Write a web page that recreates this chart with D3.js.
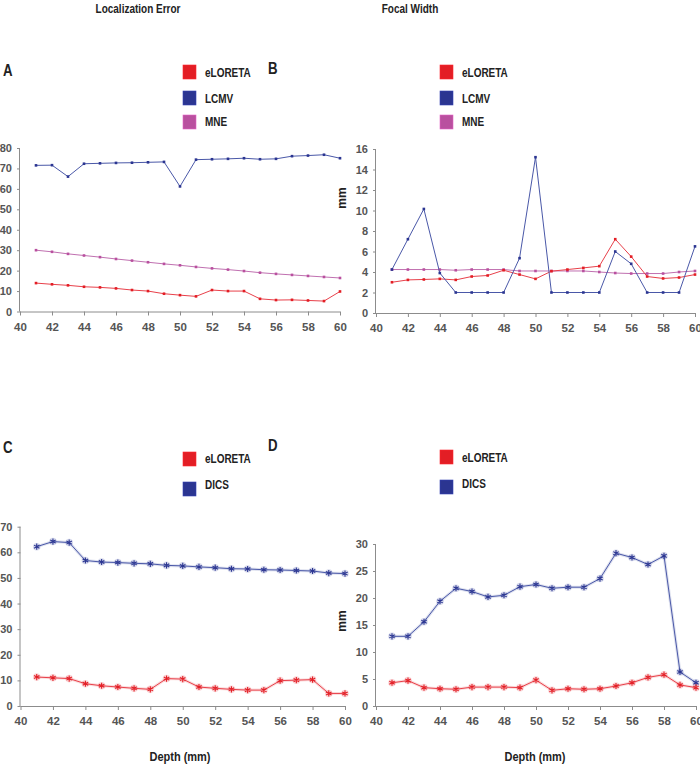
<!DOCTYPE html>
<html><head><meta charset="utf-8">
<script src="https://cdn.jsdelivr.net/npm/d3@7"></script>
<style>
body{margin:0;background:#fff;}
svg{display:block;}
text{font-family:"Liberation Sans",Arial,sans-serif;font-weight:bold;}
</style></head>
<body><svg id="c" width="700" height="765"></svg>
<script>
const depth = [41,42,43,44,45,46,47,48,49,50,51,52,53,54,55,56,57,58,59,60];
const xTicks = [40,42,44,46,48,50,52,54,56,58,60];

// Panel A: Localization error
const locErrELORETA = [13.9,13.3,12.8,12.1,11.8,11.3,10.5,10.0,8.7,8.0,7.4,10.5,10.0,10.0,6.2,5.6,5.7,5.4,5.1,9.8];
const locErrLCMV    = [71.5,71.6,66.0,72.3,72.5,72.7,72.8,73.0,73.2,61.2,74.3,74.5,74.7,75.0,74.5,74.7,76.0,76.3,76.7,75.0];
const locErrMNE     = [30.0,29.2,28.2,27.4,26.6,25.7,24.9,24.1,23.3,22.6,21.8,21.1,20.5,19.8,19.0,18.4,17.9,17.4,16.9,16.4];

// Panel B: Focal width
const focalELORETA = [3.0,3.23,3.27,3.33,3.23,3.56,3.66,4.17,3.75,3.33,4.08,4.24,4.4,4.57,7.2,5.5,3.56,3.37,3.46,3.75];
const focalLCMV    = [4.24,7.2,10.15,3.9,2.0,2.0,2.0,2.0,5.35,15.2,2.0,2.0,2.0,2.0,6.0,4.8,2.0,2.0,2.0,6.5];
const focalMNE     = [4.24,4.24,4.24,4.24,4.17,4.24,4.24,4.24,4.1,4.1,4.1,4.1,4.1,4.0,3.9,3.85,3.85,3.85,4.0,4.1];

// Panel C: Localization error (DICS)
const locErrELORETA2 = [11.3,11.0,10.7,8.7,7.9,7.4,6.9,6.5,10.7,10.5,7.4,6.9,6.5,6.2,6.2,9.9,10.1,10.3,4.9,4.9];
const locErrDICS     = [62.2,64.2,63.8,56.8,56.2,56.0,55.7,55.5,54.9,54.7,54.3,54.0,53.6,53.5,53.2,53.1,52.9,52.7,51.9,51.7];

// Panel D: Focal width (DICS)
const focalELORETA2 = [4.3,4.7,3.4,3.2,3.1,3.5,3.5,3.5,3.4,4.8,2.9,3.2,3.1,3.2,3.7,4.3,5.3,5.8,3.9,3.4];
const focalDICS     = [12.9,12.9,15.6,19.4,21.8,21.2,20.2,20.5,22.1,22.5,21.8,22.0,22.0,23.6,28.3,27.5,26.2,27.8,6.3,4.3];

const RED="#e31e25", BLUE="#2b3591", MAG="#b9509f";
const svg = d3.select("#c");

function narrow(parent, x, y, txt, size, sx, anchor, fill){
  return parent.append("text")
    .attr("transform",`translate(${x},${y}) scale(${sx},1)`)
    .attr("text-anchor",anchor||"start")
    .attr("fill",fill||"#222").style("font-size",size+"px").text(txt);
}

const panels = [
  {letter:"A", lx:3, ly:76, xr:[20,340], yr:[311.5,148], yd:[0,80], yt:[0,10,20,30,40,50,60,70,80], mm:null,
   legend:{x:183, items:[["eLORETA",RED,65,77],["LCMV",BLUE,91,103],["MNE",MAG,115,126]]},
   series:[[locErrLCMV,BLUE,"#4a58a8"],[locErrMNE,MAG,"#c070b0"],[locErrELORETA,RED,"#e8404a"]], star:false},
  {letter:"B", lx:268, ly:74, xr:[376,695], yr:[313,149], yd:[0,16], yt:[0,2,4,6,8,10,12,14,16], mm:[342,198],
   legend:{x:440, items:[["eLORETA",RED,65,77],["LCMV",BLUE,91,103],["MNE",MAG,115,126]]},
   series:[[focalMNE,MAG,"#c070b0"],[focalELORETA,RED,"#e8404a"],[focalLCMV,BLUE,"#4a58a8"]], star:false},
  {letter:"C", lx:3, ly:453, xr:[20.5,345], yr:[706,526.7], yd:[0,70], yt:[0,10,20,30,40,50,60,70], mm:null,
   legend:{x:183, items:[["eLORETA",RED,452,463],["DICS",BLUE,482,489]]},
   series:[[locErrDICS,BLUE,"#4a58a8"],[locErrELORETA2,RED,"#e8404a"]], star:true},
  {letter:"D", lx:268, ly:451, xr:[376,696], yr:[706,544], yd:[0,30], yt:[0,5,10,15,20,25,30], mm:[342,621],
   legend:{x:440, items:[["eLORETA",RED,450,462],["DICS",BLUE,480,488]]},
   series:[[focalDICS,BLUE,"#4a58a8"],[focalELORETA2,RED,"#e8404a"]], star:true}
];

const AX="#8c8c8c", LAB="#555";

panels.forEach(p=>{
  const g = svg.append("g");
  const x = d3.scaleLinear().domain([40,60]).range(p.xr);
  const y = d3.scaleLinear().domain(p.yd).range(p.yr);

  const ya = g.append("g").attr("transform",`translate(${p.xr[0]},0)`)
    .call(d3.axisLeft(y).tickValues(p.yt).tickSize(3).tickPadding(5));
  ya.select(".domain").attr("stroke",AX).attr("d",`M-0.5,${p.yr[0]}V${p.yr[1]}`);
  ya.selectAll(".tick line").attr("stroke",AX);
  ya.selectAll(".tick text").attr("fill",LAB).style("font-size","11px").style("font-family","'Liberation Sans',Arial,sans-serif");

  const xa = g.append("g").attr("transform",`translate(0,${p.yr[0]})`)
    .call(d3.axisBottom(x).tickValues(xTicks).tickSize(4).tickPadding(7));
  xa.select(".domain").attr("stroke",AX).attr("d",`M${p.xr[0]},0.5H${p.xr[1]}`);
  xa.selectAll(".tick line").attr("stroke",AX);
  xa.selectAll(".tick text").attr("fill",LAB).style("font-size","11.5px").style("font-family","'Liberation Sans',Arial,sans-serif");

  p.series.forEach(([vals,col,lcol])=>{
    const pts = depth.map((d,i)=>[x(d),y(vals[i])]);
    const line = d3.line();
    if(p.star){
      g.append("path").attr("d",line(pts)).attr("fill","none").attr("stroke",lcol).attr("stroke-opacity",0.18).attr("stroke-width",3);
    }
    g.append("path").attr("d",line(pts)).attr("fill","none").attr("stroke",lcol).attr("stroke-width",1);
    if(p.star){
      g.selectAll(null).data(pts).enter().append("circle")
        .attr("cx",d=>d[0]).attr("cy",d=>d[1]).attr("r",3.8).attr("fill",lcol).attr("fill-opacity",0.22);
      g.selectAll(null).data(pts).enter().append("path")
        .attr("transform",d=>`translate(${d[0]},${d[1]})`)
        .attr("d",d3.symbol(d3.symbolAsterisk,26)()).attr("fill","none").attr("stroke",col).attr("stroke-width",1.1);
    } else {
      g.selectAll(null).data(pts).enter().append("rect")
        .attr("x",d=>d[0]-1.3).attr("y",d=>d[1]-1.3).attr("width",2.6).attr("height",2.6).attr("fill",col);
    }
  });

  p.legend.items.forEach(([name,col,sy,ty])=>{
    g.append("rect").attr("x",p.legend.x).attr("y",sy).attr("width",13).attr("height",14)
      .attr("fill",col).attr("stroke",d3.color(col).brighter(0.6)).attr("stroke-width",0.6);
    narrow(g, p.legend.x+22, ty, name, 13.5, 0.74);
  });

  narrow(g, p.lx, p.ly, p.letter, 17, 0.78);

  if(p.mm){
    g.append("text").attr("transform",`translate(${p.mm[0]+4},${p.mm[1]}) rotate(-90)`)
      .attr("text-anchor","middle").text("mm").attr("fill","#222").style("font-size","12px");
  }
});

narrow(svg, 138, 13, "Localization Error", 12.5, 0.8, "middle");
narrow(svg, 410, 13, "Focal Width", 12.5, 0.8, "middle");
narrow(svg, 180, 761, "Depth (mm)", 12.5, 0.88, "middle");
narrow(svg, 535, 761, "Depth (mm)", 12.5, 0.88, "middle");
</script></body></html>
